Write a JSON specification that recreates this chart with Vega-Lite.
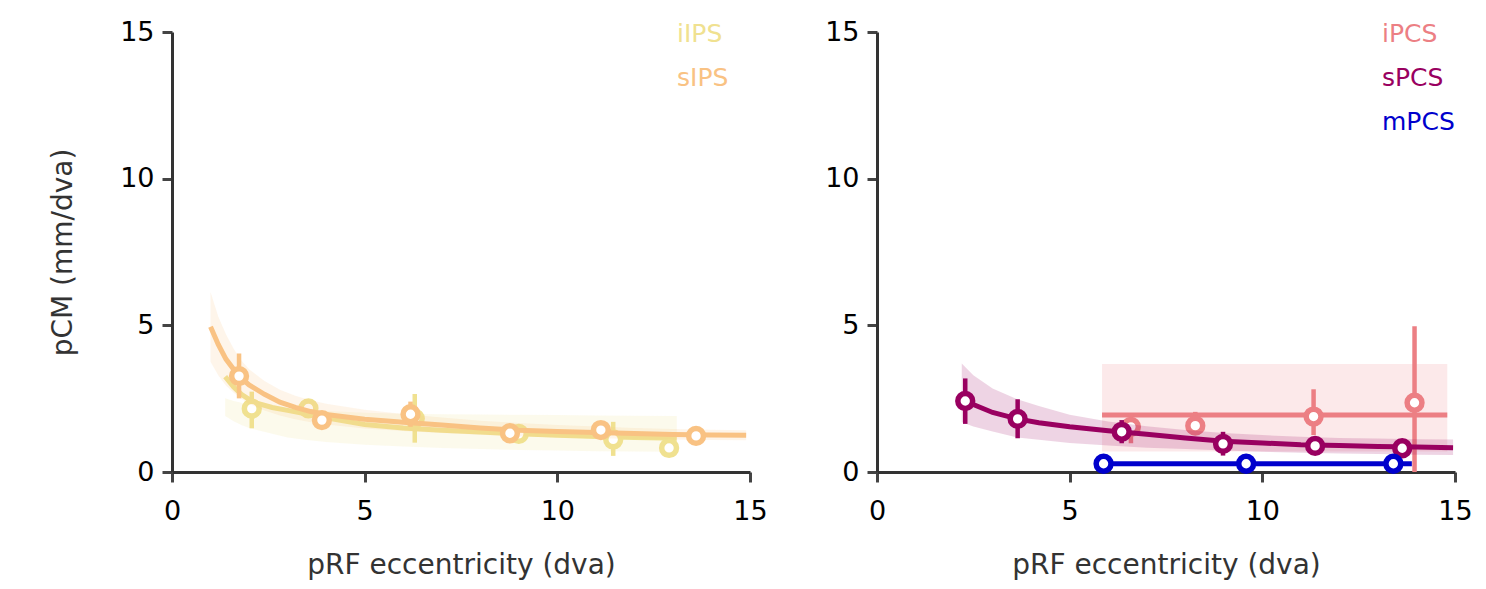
{
  "$schema": "https://vega.github.io/schema/vega-lite/v6.json",
  "background": "white",
  "padding": {"left": 49, "top": 18, "right": 5, "bottom": 5},
  "datasets": {
    "curves": [
      {"roi": "sIPS", "x": 1.0, "y": 4.95, "lo": 3.76, "hi": 6.14},
      {"roi": "sIPS", "x": 1.2, "y": 4.35, "lo": 3.3, "hi": 5.3},
      {"roi": "sIPS", "x": 1.4, "y": 3.85, "lo": 2.95, "hi": 4.7},
      {"roi": "sIPS", "x": 1.6, "y": 3.5, "lo": 2.7, "hi": 4.2},
      {"roi": "sIPS", "x": 1.8, "y": 3.2, "lo": 2.5, "hi": 3.8},
      {"roi": "sIPS", "x": 2.0, "y": 2.97, "lo": 2.33, "hi": 3.5},
      {"roi": "sIPS", "x": 2.4, "y": 2.65, "lo": 2.1, "hi": 3.1},
      {"roi": "sIPS", "x": 2.8, "y": 2.38, "lo": 1.93, "hi": 2.8},
      {"roi": "sIPS", "x": 3.2, "y": 2.2, "lo": 1.8, "hi": 2.6},
      {"roi": "sIPS", "x": 3.6, "y": 2.06, "lo": 1.7, "hi": 2.45},
      {"roi": "sIPS", "x": 4.0, "y": 1.96, "lo": 1.62, "hi": 2.33},
      {"roi": "sIPS", "x": 5.0, "y": 1.8, "lo": 1.48, "hi": 2.12},
      {"roi": "sIPS", "x": 6.0, "y": 1.7, "lo": 1.4, "hi": 1.98},
      {"roi": "sIPS", "x": 7.0, "y": 1.6, "lo": 1.33, "hi": 1.86},
      {"roi": "sIPS", "x": 8.0, "y": 1.5, "lo": 1.27, "hi": 1.75},
      {"roi": "sIPS", "x": 9.0, "y": 1.42, "lo": 1.22, "hi": 1.67},
      {"roi": "sIPS", "x": 10.0, "y": 1.38, "lo": 1.18, "hi": 1.6},
      {"roi": "sIPS", "x": 11.0, "y": 1.35, "lo": 1.15, "hi": 1.55},
      {"roi": "sIPS", "x": 12.0, "y": 1.31, "lo": 1.13, "hi": 1.5},
      {"roi": "sIPS", "x": 13.0, "y": 1.28, "lo": 1.11, "hi": 1.47},
      {"roi": "sIPS", "x": 14.0, "y": 1.26, "lo": 1.09, "hi": 1.44},
      {"roi": "sIPS", "x": 14.9, "y": 1.25, "lo": 1.08, "hi": 1.42},
      {"roi": "iIPS", "x": 1.38, "y": 3.25, "lo": 1.91, "hi": 2.51},
      {"roi": "iIPS", "x": 1.6, "y": 2.9, "lo": 1.73, "hi": 2.42},
      {"roi": "iIPS", "x": 1.8, "y": 2.65, "lo": 1.6, "hi": 2.36},
      {"roi": "iIPS", "x": 2.0, "y": 2.48, "lo": 1.5, "hi": 2.3},
      {"roi": "iIPS", "x": 2.2, "y": 2.35, "lo": 1.43, "hi": 2.26},
      {"roi": "iIPS", "x": 2.6, "y": 2.2, "lo": 1.3, "hi": 2.2},
      {"roi": "iIPS", "x": 3.0, "y": 2.1, "lo": 1.18, "hi": 2.15},
      {"roi": "iIPS", "x": 3.5, "y": 1.98, "lo": 1.09, "hi": 2.11},
      {"roi": "iIPS", "x": 4.0, "y": 1.85, "lo": 1.02, "hi": 2.08},
      {"roi": "iIPS", "x": 5.0, "y": 1.62, "lo": 0.93, "hi": 2.02},
      {"roi": "iIPS", "x": 6.0, "y": 1.5, "lo": 0.87, "hi": 1.99},
      {"roi": "iIPS", "x": 7.0, "y": 1.42, "lo": 0.82, "hi": 1.97},
      {"roi": "iIPS", "x": 8.0, "y": 1.36, "lo": 0.78, "hi": 1.96},
      {"roi": "iIPS", "x": 9.0, "y": 1.3, "lo": 0.75, "hi": 1.95},
      {"roi": "iIPS", "x": 10.0, "y": 1.25, "lo": 0.73, "hi": 1.94},
      {"roi": "iIPS", "x": 11.0, "y": 1.21, "lo": 0.71, "hi": 1.93},
      {"roi": "iIPS", "x": 12.0, "y": 1.18, "lo": 0.7, "hi": 1.92},
      {"roi": "iIPS", "x": 13.1, "y": 1.15, "lo": 0.69, "hi": 1.91},
      {"roi": "sPCS", "x": 2.2, "y": 2.5, "lo": 1.7, "hi": 3.7},
      {"roi": "sPCS", "x": 2.5, "y": 2.3, "lo": 1.55, "hi": 3.3},
      {"roi": "sPCS", "x": 3.0, "y": 2.03, "lo": 1.38, "hi": 2.85},
      {"roi": "sPCS", "x": 3.64, "y": 1.81, "lo": 1.18, "hi": 2.48},
      {"roi": "sPCS", "x": 4.2, "y": 1.68, "lo": 1.1, "hi": 2.25},
      {"roi": "sPCS", "x": 5.0, "y": 1.54, "lo": 0.99, "hi": 1.95},
      {"roi": "sPCS", "x": 6.0, "y": 1.41, "lo": 0.9, "hi": 1.72},
      {"roi": "sPCS", "x": 7.0, "y": 1.29, "lo": 0.83, "hi": 1.56},
      {"roi": "sPCS", "x": 8.0, "y": 1.16, "lo": 0.78, "hi": 1.43},
      {"roi": "sPCS", "x": 9.0, "y": 1.05, "lo": 0.73, "hi": 1.33},
      {"roi": "sPCS", "x": 10.0, "y": 0.99, "lo": 0.69, "hi": 1.26},
      {"roi": "sPCS", "x": 11.0, "y": 0.93, "lo": 0.66, "hi": 1.2},
      {"roi": "sPCS", "x": 12.0, "y": 0.9, "lo": 0.63, "hi": 1.16},
      {"roi": "sPCS", "x": 13.0, "y": 0.87, "lo": 0.61, "hi": 1.14},
      {"roi": "sPCS", "x": 14.0, "y": 0.85, "lo": 0.59, "hi": 1.12},
      {"roi": "sPCS", "x": 14.95, "y": 0.83, "lo": 0.58, "hi": 1.11},
      {"roi": "iPCS", "x": 5.84, "y": 1.94, "lo": 0.7, "hi": 3.68},
      {"roi": "iPCS", "x": 14.8, "y": 1.94, "lo": 0.7, "hi": 3.68},
      {"roi": "mPCS", "x": 5.84, "y": 0.28},
      {"roi": "mPCS", "x": 13.88, "y": 0.28}
    ],
    "points": [
      {"roi": "iIPS", "x": 2.07, "y": 2.16, "lo": 1.49, "hi": 2.74},
      {"roi": "iIPS", "x": 3.54, "y": 2.17},
      {"roi": "iIPS", "x": 6.3, "y": 1.82, "lo": 1.0, "hi": 2.66},
      {"roi": "iIPS", "x": 9.0, "y": 1.3},
      {"roi": "iIPS", "x": 11.45, "y": 1.11, "lo": 0.55, "hi": 1.71},
      {"roi": "iIPS", "x": 12.9, "y": 0.82},
      {"roi": "sIPS", "x": 1.74, "y": 3.27, "lo": 2.51, "hi": 4.04},
      {"roi": "sIPS", "x": 3.89, "y": 1.77},
      {"roi": "sIPS", "x": 6.19, "y": 1.97, "lo": 1.54, "hi": 2.4},
      {"roi": "sIPS", "x": 8.77, "y": 1.32},
      {"roi": "sIPS", "x": 11.13, "y": 1.43},
      {"roi": "sIPS", "x": 13.6, "y": 1.23},
      {"roi": "iPCS", "x": 6.59, "y": 1.54, "lo": 0.98, "hi": 2.0},
      {"roi": "iPCS", "x": 8.26, "y": 1.58, "lo": 1.3, "hi": 2.05},
      {"roi": "iPCS", "x": 11.33, "y": 1.89, "lo": 1.26, "hi": 2.82},
      {"roi": "iPCS", "x": 13.95, "y": 2.36, "lo": 0.0, "hi": 4.97},
      {"roi": "sPCS", "x": 2.29, "y": 2.42, "lo": 1.64, "hi": 3.19},
      {"roi": "sPCS", "x": 3.65, "y": 1.81, "lo": 1.15, "hi": 2.48},
      {"roi": "sPCS", "x": 6.35, "y": 1.37, "lo": 0.98, "hi": 1.77},
      {"roi": "sPCS", "x": 8.98, "y": 0.96, "lo": 0.56, "hi": 1.37},
      {"roi": "sPCS", "x": 11.37, "y": 0.89},
      {"roi": "sPCS", "x": 13.63, "y": 0.81},
      {"roi": "mPCS", "x": 5.88, "y": 0.28},
      {"roi": "mPCS", "x": 9.58, "y": 0.28},
      {"roi": "mPCS", "x": 13.4, "y": 0.28}
    ]
  },
  "spacing": 56,
  "resolve": {"scale": {"color": "independent"}, "legend": {"color": "independent"}},
  "hconcat": [
    {
      "width": 578,
      "height": 440,
      "encoding": {
        "x": {"field": "x", "type": "quantitative", "scale": {"domain": [0, 15], "nice": false, "zero": false}, "axis": {"values": [0, 5, 10, 15], "title": "pRF eccentricity (dva)"}},
        "color": {"field": "roi", "type": "nominal", "scale": {"domain": ["iIPS", "sIPS"], "range": ["#F0E190", "#F9C283"]},
          "legend": {"title": null, "orient": "none", "legendX": 480, "legendY": -11, "symbolSize": 0, "symbolStrokeWidth": 0, "symbolOpacity": 0, "labelOffset": 0, "labelFontSize": 25, "rowPadding": 18, "padding": 0,
            "encode": {"labels": {"update": {"fill": {"signal": "datum.value === 'iIPS' ? '#F0E190' : '#F9C283'"}}}}}}
      },
      "layer": [
        {"data": {"name": "curves"}, "transform": [{"filter": "datum.roi === 'iIPS'"}], "mark": {"type": "area", "opacity": 0.17},
         "encoding": {"y": {"field": "hi", "type": "quantitative", "scale": {"domain": [0, 15], "nice": false, "zero": false}, "axis": {"values": [0, 5, 10, 15], "title": "pCM (mm/dva)"}}, "y2": {"field": "lo"}}},
        {"data": {"name": "curves"}, "transform": [{"filter": "datum.roi === 'iIPS'"}], "mark": {"type": "line", "strokeWidth": 5},
         "encoding": {"y": {"field": "y", "type": "quantitative", "scale": {"domain": [0, 15], "nice": false, "zero": false}, "axis": {"values": [0, 5, 10, 15], "title": "pCM (mm/dva)"}}}},
        {"data": {"name": "points"}, "transform": [{"filter": "datum.roi === 'iIPS' && isValid(datum.lo)"}], "mark": {"type": "rule", "strokeWidth": 4.5},
         "encoding": {"y": {"field": "hi", "type": "quantitative", "scale": {"domain": [0, 15], "nice": false, "zero": false}, "axis": {"values": [0, 5, 10, 15], "title": "pCM (mm/dva)"}}, "y2": {"field": "lo"}}},
        {"data": {"name": "points"}, "transform": [{"filter": "datum.roi === 'iIPS'"}], "mark": {"type": "point", "shape": "circle", "filled": false, "fill": "white", "strokeWidth": 5.5, "size": 220, "opacity": 1},
         "encoding": {"y": {"field": "y", "type": "quantitative", "scale": {"domain": [0, 15], "nice": false, "zero": false}, "axis": {"values": [0, 5, 10, 15], "title": "pCM (mm/dva)"}}}},
        {"data": {"name": "curves"}, "transform": [{"filter": "datum.roi === 'sIPS'"}], "mark": {"type": "area", "opacity": 0.17},
         "encoding": {"y": {"field": "hi", "type": "quantitative", "scale": {"domain": [0, 15], "nice": false, "zero": false}, "axis": {"values": [0, 5, 10, 15], "title": "pCM (mm/dva)"}}, "y2": {"field": "lo"}}},
        {"data": {"name": "curves"}, "transform": [{"filter": "datum.roi === 'sIPS'"}], "mark": {"type": "line", "strokeWidth": 5},
         "encoding": {"y": {"field": "y", "type": "quantitative", "scale": {"domain": [0, 15], "nice": false, "zero": false}, "axis": {"values": [0, 5, 10, 15], "title": "pCM (mm/dva)"}}}},
        {"data": {"name": "points"}, "transform": [{"filter": "datum.roi === 'sIPS' && isValid(datum.lo)"}], "mark": {"type": "rule", "strokeWidth": 4.5},
         "encoding": {"y": {"field": "hi", "type": "quantitative", "scale": {"domain": [0, 15], "nice": false, "zero": false}, "axis": {"values": [0, 5, 10, 15], "title": "pCM (mm/dva)"}}, "y2": {"field": "lo"}}},
        {"data": {"name": "points"}, "transform": [{"filter": "datum.roi === 'sIPS'"}], "mark": {"type": "point", "shape": "circle", "filled": false, "fill": "white", "strokeWidth": 5.5, "size": 220, "opacity": 1},
         "encoding": {"y": {"field": "y", "type": "quantitative", "scale": {"domain": [0, 15], "nice": false, "zero": false}, "axis": {"values": [0, 5, 10, 15], "title": "pCM (mm/dva)"}}}}
      ]
    },
    {
      "width": 578,
      "height": 440,
      "encoding": {
        "x": {"field": "x", "type": "quantitative", "scale": {"domain": [0, 15], "nice": false, "zero": false}, "axis": {"values": [0, 5, 10, 15], "title": "pRF eccentricity (dva)"}},
        "color": {"field": "roi", "type": "nominal", "scale": {"domain": ["iPCS", "sPCS", "mPCS"], "range": ["#EC7F84", "#990060", "#0000CC"]},
          "legend": {"title": null, "orient": "none", "legendX": 480, "legendY": -11, "symbolSize": 0, "symbolStrokeWidth": 0, "symbolOpacity": 0, "labelOffset": 0, "labelFontSize": 25, "rowPadding": 18, "padding": 0,
            "encode": {"labels": {"update": {"fill": {"signal": "datum.value === 'iPCS' ? '#EC7F84' : datum.value === 'sPCS' ? '#990060' : '#0000CC'"}}}}}}
      },
      "layer": [
        {"data": {"name": "curves"}, "transform": [{"filter": "datum.roi === 'iPCS'"}], "mark": {"type": "area", "opacity": 0.17},
         "encoding": {"y": {"field": "hi", "type": "quantitative", "scale": {"domain": [0, 15], "nice": false, "zero": false}, "axis": {"values": [0, 5, 10, 15], "title": null}}, "y2": {"field": "lo"}}},
        {"data": {"name": "curves"}, "transform": [{"filter": "datum.roi === 'iPCS'"}], "mark": {"type": "line", "strokeWidth": 5},
         "encoding": {"y": {"field": "y", "type": "quantitative", "scale": {"domain": [0, 15], "nice": false, "zero": false}, "axis": {"values": [0, 5, 10, 15], "title": null}}}},
        {"data": {"name": "points"}, "transform": [{"filter": "datum.roi === 'iPCS' && isValid(datum.lo)"}], "mark": {"type": "rule", "strokeWidth": 4.5},
         "encoding": {"y": {"field": "hi", "type": "quantitative", "scale": {"domain": [0, 15], "nice": false, "zero": false}, "axis": {"values": [0, 5, 10, 15], "title": null}}, "y2": {"field": "lo"}}},
        {"data": {"name": "points"}, "transform": [{"filter": "datum.roi === 'iPCS'"}], "mark": {"type": "point", "shape": "circle", "filled": false, "fill": "white", "strokeWidth": 5.5, "size": 220, "opacity": 1},
         "encoding": {"y": {"field": "y", "type": "quantitative", "scale": {"domain": [0, 15], "nice": false, "zero": false}, "axis": {"values": [0, 5, 10, 15], "title": null}}}},
        {"data": {"name": "curves"}, "transform": [{"filter": "datum.roi === 'sPCS'"}], "mark": {"type": "area", "opacity": 0.17},
         "encoding": {"y": {"field": "hi", "type": "quantitative", "scale": {"domain": [0, 15], "nice": false, "zero": false}, "axis": {"values": [0, 5, 10, 15], "title": null}}, "y2": {"field": "lo"}}},
        {"data": {"name": "curves"}, "transform": [{"filter": "datum.roi === 'sPCS'"}], "mark": {"type": "line", "strokeWidth": 5},
         "encoding": {"y": {"field": "y", "type": "quantitative", "scale": {"domain": [0, 15], "nice": false, "zero": false}, "axis": {"values": [0, 5, 10, 15], "title": null}}}},
        {"data": {"name": "points"}, "transform": [{"filter": "datum.roi === 'sPCS' && isValid(datum.lo)"}], "mark": {"type": "rule", "strokeWidth": 4.5},
         "encoding": {"y": {"field": "hi", "type": "quantitative", "scale": {"domain": [0, 15], "nice": false, "zero": false}, "axis": {"values": [0, 5, 10, 15], "title": null}}, "y2": {"field": "lo"}}},
        {"data": {"name": "points"}, "transform": [{"filter": "datum.roi === 'sPCS'"}], "mark": {"type": "point", "shape": "circle", "filled": false, "fill": "white", "strokeWidth": 5.5, "size": 220, "opacity": 1},
         "encoding": {"y": {"field": "y", "type": "quantitative", "scale": {"domain": [0, 15], "nice": false, "zero": false}, "axis": {"values": [0, 5, 10, 15], "title": null}}}},
        {"data": {"name": "curves"}, "transform": [{"filter": "datum.roi === 'mPCS'"}], "mark": {"type": "line", "strokeWidth": 5},
         "encoding": {"y": {"field": "y", "type": "quantitative", "scale": {"domain": [0, 15], "nice": false, "zero": false}, "axis": {"values": [0, 5, 10, 15], "title": null}}}},
        {"data": {"name": "points"}, "transform": [{"filter": "datum.roi === 'mPCS'"}], "mark": {"type": "point", "shape": "circle", "filled": false, "fill": "white", "strokeWidth": 5.5, "size": 220, "opacity": 1},
         "encoding": {"y": {"field": "y", "type": "quantitative", "scale": {"domain": [0, 15], "nice": false, "zero": false}, "axis": {"values": [0, 5, 10, 15], "title": null}}}}
      ]
    }
  ],
  "config": {
    "font": "DejaVu Sans",
    "view": {"stroke": null},
    "axis": {
      "grid": false,
      "domainColor": "#333333",
      "domainWidth": 3,
      "tickColor": "#444444",
      "tickWidth": 3,
      "tickSize": 10,
      "labelFont": "DejaVu Sans",
      "labelFontSize": 27,
      "labelColor": "#000000",
      "labelPadding": 8,
      "labelFlush": false,
      "titleFont": "DejaVu Sans",
      "titleFontSize": 28,
      "titleFontWeight": "normal",
      "titleColor": "#333333"
    },
    "axisX": {"titlePadding": 27, "labelPadding": 16},
    "axisY": {"titlePadding": 42},
    "legend": {"labelFont": "DejaVu Sans"}
  }
}
